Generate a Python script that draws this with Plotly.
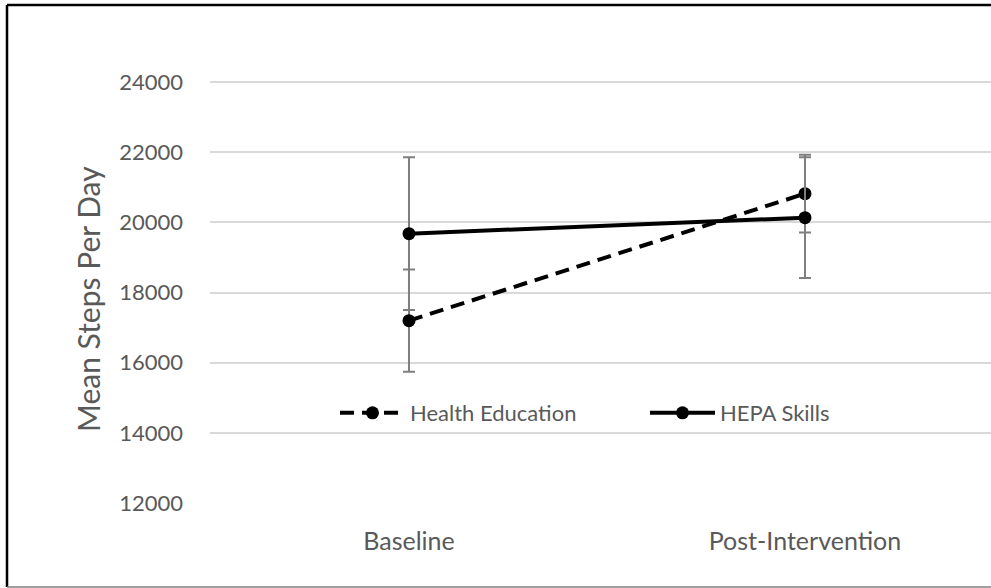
import plotly.graph_objects as go

categories = ["Baseline", "Post-Intervention"]
health_ed = [17200, 20820]
health_ed_err = [1460, 1110]
hepa = [19680, 20135]
hepa_err = [2180, 1720]
y_ticks = [12000, 14000, 16000, 18000, 20000, 22000, 24000]

FONT = "Lato, 'Open Sans', sans-serif"
GRAY_TXT = "#595959"

W = 1010
PLOT_W = W - 210
x_hi = -0.5025 + PLOT_W / 396.0

fig = go.Figure()
fig.add_trace(go.Scatter(
    x=categories, y=health_ed, name="Health Education", mode="lines+markers",
    line=dict(color="black", width=4, dash="14px,8px"),
    marker=dict(color="black", size=13),
    error_y=dict(type="data", array=health_ed_err, visible=True,
                 color="#7f7f7f", thickness=2, width=6),
))
fig.add_trace(go.Scatter(
    x=categories, y=hepa, name="HEPA Skills", mode="lines+markers",
    line=dict(color="black", width=4),
    marker=dict(color="black", size=13),
    error_y=dict(type="data", array=hepa_err, visible=True,
                 color="#7f7f7f", thickness=2, width=6),
))

def px_x(p):
    return (p - 210) / PLOT_W

def px_y(p):
    return (503 - p) / 491.0

# outer frame (cropped chart border)
fig.add_shape(type="line", xref="paper", yref="paper",
              x0=px_x(7), x1=px_x(7), y0=px_y(587), y1=px_y(5),
              line=dict(color="black", width=2.5))
fig.add_shape(type="line", xref="paper", yref="paper",
              x0=px_x(7), x1=1.05, y0=px_y(5), y1=px_y(5),
              line=dict(color="black", width=2.5))
fig.add_shape(type="line", xref="paper", yref="paper",
              x0=px_x(7), x1=1.05, y0=px_y(587), y1=px_y(587),
              line=dict(color="#7f7f7f", width=1.5))

fig.add_annotation(text="Mean Steps Per Day", xref="paper", yref="paper",
                   x=px_x(88), y=px_y(299), textangle=-90, showarrow=False,
                   xanchor="center", yanchor="middle",
                   font=dict(family=FONT, size=30, color=GRAY_TXT))

fig.update_layout(
    width=W, height=588,
    margin=dict(l=210, r=0, t=12, b=85),
    paper_bgcolor="white", plot_bgcolor="white",
    font=dict(family=FONT, color=GRAY_TXT, size=18),
    showlegend=True,
    legend=dict(orientation="h", x=px_x(335) + 0.0, y=px_y(413), xanchor="left", yanchor="middle",
                bgcolor="rgba(0,0,0,0)", itemwidth=65,
                entrywidth=230, entrywidthmode="pixels",
                font=dict(family=FONT, color=GRAY_TXT, size=22)),
    xaxis=dict(range=[-0.5025, x_hi], showgrid=False, showline=False,
               ticks="", ticklabelstandoff=21,
               tickfont=dict(size=25, color=GRAY_TXT)),
    yaxis=dict(range=[12000, 26000], tickvals=y_ticks,
               ticktext=[str(v) for v in y_ticks],
               showgrid=True, gridcolor="#d9d9d9", gridwidth=1.5,
               zeroline=False, showline=False, ticks="", ticklabelstandoff=26,
               tickfont=dict(size=22, color=GRAY_TXT)),
)

fig.write_html(
    "out.html",
    config={"displayModeBar": False},
    post_script="document.body.style.margin='0';document.body.style.overflow='hidden';",
)
